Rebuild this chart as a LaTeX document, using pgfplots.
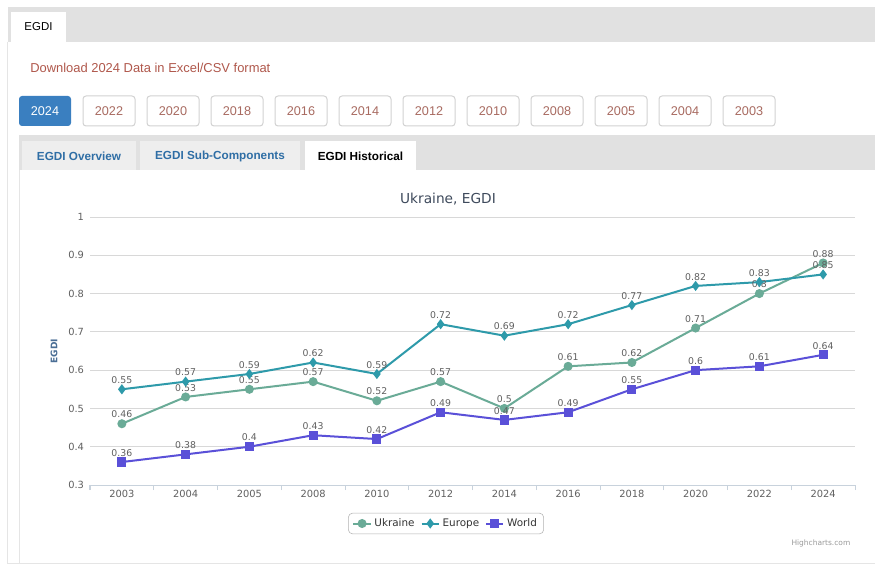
\documentclass[border=0pt]{standalone}
\usepackage{fontspec}
\setmainfont{Liberation Sans}
\newfontfamily\dejavu{DejaVu Sans}
\usepackage{pgfplots}
\pgfplotsset{compat=1.18}

\definecolor{ukr}{HTML}{6AAB97}
\definecolor{eur}{HTML}{2E9AAA}
\definecolor{wld}{HTML}{5A50D8}
\definecolor{gridc}{HTML}{D8D8D8}
\definecolor{axc}{HTML}{C8D2DC}
\definecolor{tickc}{HTML}{606060}
\definecolor{titc}{HTML}{3E4A5C}
\definecolor{barg}{HTML}{E1E1E1}
\definecolor{tabg}{HTML}{EEEEEE}
\definecolor{btnblue}{HTML}{3A7FC0}
\definecolor{btntxt}{HTML}{A86A60}
\definecolor{dltxt}{HTML}{B0584C}
\definecolor{tabtxt}{HTML}{2F6EA5}
\definecolor{ylab}{HTML}{4A6E95}

\begin{document}
\begin{tikzpicture}[x=0.75pt,y=0.75pt]
\useasboundingbox (0,0) rectangle (875,-566);
\fill[white] (0,0) rectangle (875,-566);

% top tab bar
\fill[barg] (8,-7) rectangle (875,-42);
\fill[white] (11,-12) rectangle (66,-42);
\node[font=\fontsize{8.6}{10}\selectfont] at (38.5,-27) {EGDI};
\draw[gray!20, line width=0.75pt] (7.5,-42) -- (7.5,-563) -- (875,-563);

% download link
\node[anchor=west, text=dltxt, font=\fontsize{9.7}{11}\selectfont, inner sep=0] at (30,-68) {Download 2024 Data in Excel/CSV format};

% year buttons
\fill[btnblue, rounded corners=2.25pt] (19,-96) rectangle (71,-126);
\node[text=white, font=\fontsize{9.5}{11}\selectfont] at (45,-111) {2024};
\foreach \yr [count=\i from 0] in {2022,2020,2018,2016,2014,2012,2010,2008,2005,2004,2003} {
  \draw[gray!35, rounded corners=2.25pt, line width=0.75pt] ({83+64*\i},-96) rectangle ({135+64*\i},-126);
  \node[text=btntxt, font=\fontsize{9.5}{11}\selectfont] at ({109+64*\i},-111) {\yr};
}

% sub tabs
\fill[barg] (19,-135) rectangle (875,-170);
\fill[tabg] (22,-141) rectangle (136,-170);
\fill[tabg] (140,-141) rectangle (300,-170);
\fill[white] (305,-141) rectangle (416,-170);
\node[text=tabtxt, font=\bfseries\fontsize{8.8}{10}\selectfont] at (79,-156) {EGDI Overview};
\node[text=tabtxt, font=\bfseries\fontsize{8.8}{10}\selectfont] at (220,-156) {EGDI Sub-Components};
\node[font=\bfseries\fontsize{8.8}{10}\selectfont] at (360.5,-156) {EGDI Historical};
\draw[gray!20, line width=0.75pt] (19.5,-170) -- (19.5,-563);

% chart title, axis title, credits
\node[text=titc, font=\dejavu\fontsize{10.3}{12}\selectfont] at (448,-199) {Ukraine, EGDI};
\node[rotate=90, text=ylab, font=\dejavu\bfseries\fontsize{6.8}{8}\selectfont] at (54,-351) {EGDI};
\node[anchor=east, text=gray!80, font=\dejavu\fontsize{5.6}{7}\selectfont] at (855,-543) {Highcharts.com};

\begin{axis}[
  at={(67.5pt,-363.75pt)}, anchor=south west,
  scale only axis, width=573.75pt, height=201pt,
  xmin=-0.5, xmax=11.5, ymin=0.3, ymax=1,
  axis lines*=left,
  x axis line style={color=axc, line width=0.75pt, -},
  y axis line style={draw=none},
  xtick={0,...,11},
  xticklabels={2003,2004,2005,2008,2010,2012,2014,2016,2018,2020,2022,2024},
  minor xtick={-0.5,0.5,...,11.5},
  major tick length=0pt, minor tick length=3.75pt, tick align=outside,
  minor tick style={color=axc, line width=0.75pt},
  ytick={0.3,0.4,0.5,0.6,0.7,0.8,0.9,1},
  yticklabels={0.3,0.4,0.5,0.6,0.7,0.8,0.9,1},
  ytick style={draw=none},
  ymajorgrids, grid style={color=gridc, line width=0.75pt},
  tick label style={font=\dejavu\fontsize{7.4}{9}\selectfont, text=tickc},
  yticklabel style={xshift=-1pt},
  /pgf/number format/assume math mode=true,
  every node near coord/.append style={font=\dejavu\fontsize{7}{8}\selectfont, text=tickc, anchor=south, inner sep=1pt, yshift=2.5pt},
  legend style={at={(0.4654,-0.1437)}, anchor=center, draw=gray!60, rounded corners=3pt,
    font=\dejavu\fontsize{7.8}{9}\selectfont, text=black!80, inner xsep=3pt, inner ysep=2pt,
    /tikz/every even column/.append style={column sep=2.5pt}},
  legend columns=3,
  legend image code/.code={\draw[mark repeat=2,mark phase=2] plot coordinates {(0pt,0pt) (6.5pt,0pt) (13pt,0pt)};},
  clip=false,
]
\addplot[color=ukr, line width=1.5pt, mark=*, mark size=2.6pt, nodes near coords] coordinates {
 (0,0.46) (1,0.53) (2,0.55) (3,0.57) (4,0.52) (5,0.57)
 (6,0.50) (7,0.61) (8,0.62) (9,0.71) (10,0.80) (11,0.88)};
\addlegendentry{Ukraine}
\addplot[color=eur, line width=1.5pt, mark=diamond*, mark size=2.6pt, nodes near coords] coordinates {
 (0,0.55) (1,0.57) (2,0.59) (3,0.62) (4,0.59) (5,0.72)
 (6,0.69) (7,0.72) (8,0.77) (9,0.82) (10,0.83) (11,0.85)};
\addlegendentry{Europe}
\addplot[color=wld, line width=1.5pt, mark=square*, mark size=2.7pt, nodes near coords] coordinates {
 (0,0.36) (1,0.38) (2,0.40) (3,0.43) (4,0.42) (5,0.49)
 (6,0.47) (7,0.49) (8,0.55) (9,0.60) (10,0.61) (11,0.64)};
\addlegendentry{World}
\end{axis}
\end{tikzpicture}
\end{document}
